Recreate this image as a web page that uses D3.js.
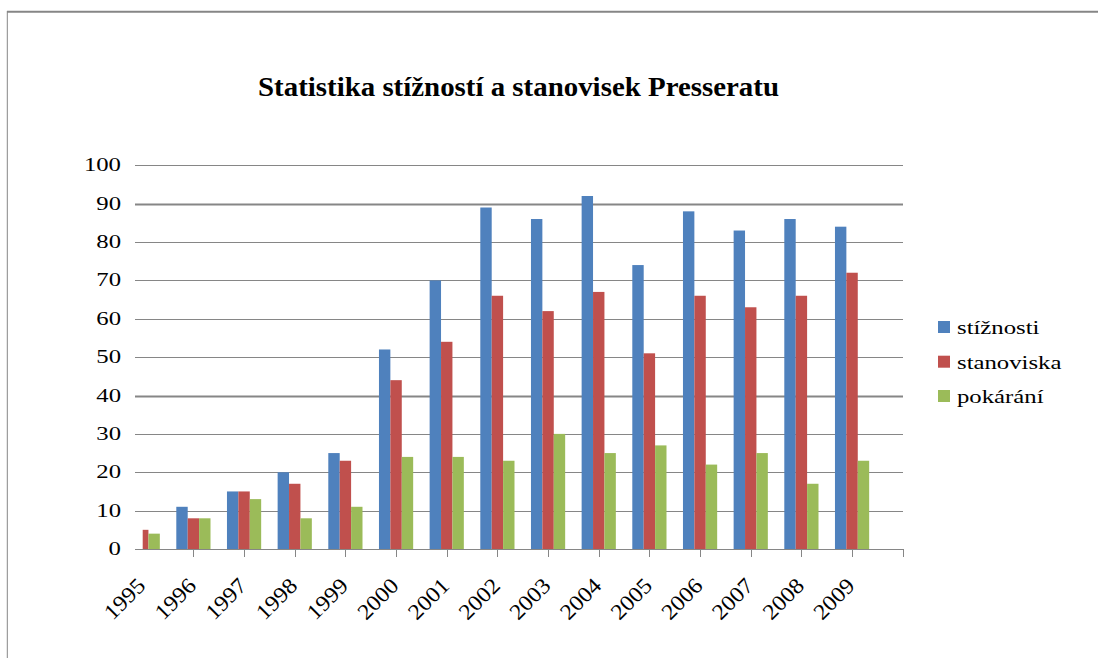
<!DOCTYPE html>
<html>
<head>
<meta charset="utf-8">
<script src="https://cdn.jsdelivr.net/npm/d3@7/dist/d3.min.js"></script>
<style>
  html, body { margin: 0; padding: 0; background: #fff; }
  svg { display: block; }
  text { font-family: "Liberation Serif", "Times New Roman", serif; fill: #000; }
</style>
</head>
<body>
<svg id="chart" width="1098" height="658"></svg>
<script>
const title = "Statistika stížností a stanovisek Presseratu";
const years = ["1995","1996","1997","1998","1999","2000","2001","2002","2003","2004","2005","2006","2007","2008","2009"];
const seriesNames = ["stížnosti","stanoviska","pokárání"];
const seriesColors = ["#4F81BD","#C0504D","#9BBB59"];
const stiznosti  = [0, 11, 15, 20, 25, 52, 70, 89, 86, 92, 74, 88, 83, 86, 84];
const stanoviska = [5, 8, 15, 17, 23, 44, 54, 66, 62, 67, 51, 66, 63, 66, 72];
const pokarani   = [4, 8, 13, 8, 11, 24, 24, 23, 30, 25, 27, 22, 25, 17, 23];
const yTicks = [0, 10, 20, 30, 40, 50, 60, 70, 80, 90, 100];

const seriesValues = [stiznosti, stanoviska, pokarani];
const svg = d3.select("#chart");
const stretch = 1.27;
const gridColor = "#868686";

// frame lines
svg.append("line").attr("x1", 7).attr("x2", 1098).attr("y1", 11.7).attr("y2", 11.7)
  .attr("stroke", gridColor).attr("stroke-width", 2);
svg.append("line").attr("x1", 7.3).attr("x2", 7.3).attr("y1", 11).attr("y2", 658)
  .attr("stroke", gridColor).attr("stroke-width", 1);

// title
svg.append("text")
  .attr("x", 258).attr("y", 96)
  .attr("font-size", 28).attr("font-weight", "bold")
  .attr("textLength", 521).attr("lengthAdjust", "spacingAndGlyphs")
  .text(title);

const plotLeft = 135, plotRight = 903;
const y = d3.scaleLinear().domain([0, 100]).range([549, 165.3]);
const x = d3.scaleBand().domain(years).range([117.4, 877.4]).paddingInner(0.325).paddingOuter(0.1625);
const xs = d3.scaleBand().domain(seriesNames).range([0, x.bandwidth()]);

// gridlines
svg.append("g").selectAll("line").data(yTicks.filter(d => d > 0)).join("line")
  .attr("x1", plotLeft).attr("x2", plotRight)
  .attr("y1", d => Math.round(y(d)) + 0.5).attr("y2", d => Math.round(y(d)) + 0.5)
  .attr("stroke", gridColor)
  .attr("stroke-width", d => (d === 90 || d === 40) ? 2 : 1);

// y labels
svg.append("g").selectAll("text").data(yTicks).join("text")
  .attr("transform", d => `translate(121,${y(d) + 6}) scale(${stretch},1)`)
  .attr("text-anchor", "end").attr("font-size", 19.5)
  .text(d => d);

// clip for bars
svg.append("defs").append("clipPath").attr("id", "plotclip")
  .append("rect").attr("x", 142.7).attr("y", 0).attr("width", plotRight - 142.7).attr("height", 549);

// bars
const gBars = svg.append("g").attr("clip-path", "url(#plotclip)");
seriesNames.forEach((s, si) => {
  gBars.append("g").selectAll("rect").data(years).join("rect")
    .attr("x", (d) => x(d) + xs(s))
    .attr("width", xs.bandwidth())
    .attr("y", (d, i) => y(seriesValues[si][i]))
    .attr("height", (d, i) => y(0) - y(seriesValues[si][i]))
    .attr("fill", seriesColors[si]);
});

// x axis
const xc = d => x(d) + x.bandwidth() / 2;
svg.append("line").attr("x1", plotLeft).attr("x2", plotRight)
  .attr("y1", 549.5).attr("y2", 549.5).attr("stroke", gridColor).attr("stroke-width", 1);
const tickXs = years.slice(1).map(xc).concat([plotRight]);
svg.append("g").selectAll("line").data(tickXs).join("line")
  .attr("x1", d => Math.round(d) + 0.5).attr("x2", d => Math.round(d) + 0.5)
  .attr("y1", 549).attr("y2", 557)
  .attr("stroke", gridColor).attr("stroke-width", 1);

svg.append("g").selectAll("text").data(years).join("text")
  .attr("transform", d => `translate(${xc(d) + 4},587) rotate(-45)`)
  .attr("text-anchor", "end").attr("font-size", 22)
  .attr("textLength", 48).attr("lengthAdjust", "spacingAndGlyphs")
  .text(d => d);

// legend
const legend = svg.append("g");
const legendY = [321, 355.7, 390];
seriesNames.forEach((s, i) => {
  legend.append("rect").attr("x", 938).attr("y", legendY[i]).attr("width", 12).attr("height", 12)
    .attr("fill", seriesColors[i]);
  legend.append("text")
    .attr("transform", `translate(957,${legendY[i] + 13}) scale(${stretch},1)`)
    .attr("font-size", 19.5)
    .text(s);
});
</script>
</body>
</html>
